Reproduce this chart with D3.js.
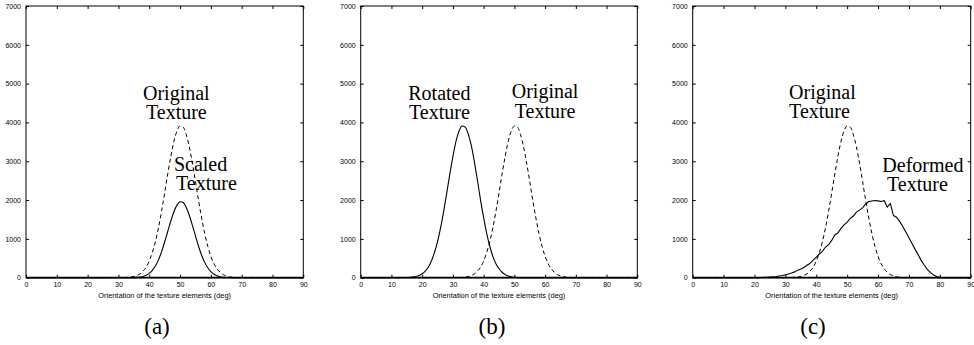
<!DOCTYPE html>
<html>
<head>
<meta charset="utf-8">
<script src="https://cdn.jsdelivr.net/npm/d3@7"></script>
<style>
  body { margin: 0; background: #fff; }
  .tick text { font-family: "Liberation Sans", Arial, sans-serif; font-size: 7px; fill: #000; }
  .tick line { stroke: #000; }
</style>
</head>
<body>
<div id="chart"></div>
<script>
// tick labels
var degTicks = [0, 10, 20, 30, 40, 50, 60, 70, 80, 90];
var countTicks = [0, 1000, 2000, 3000, 4000, 5000, 6000, 7000];

// original texture histogram (dashed, same in every panel)
var originalDeg = [0, 32, 33, 34, 35, 36, 37, 38, 39, 40, 41, 42, 43, 44, 45, 46, 47, 48, 49, 50,
    51, 52, 53, 54, 55, 56, 57, 58, 59, 60, 61, 62, 63, 64, 65, 66, 67, 68, 69, 90];
var originalCount = [0, 5, 10, 20, 30, 55, 100, 170, 270, 430, 650, 930, 1290, 1710, 2180, 2670, 3120, 3510, 3780, 3910,
    3880, 3690, 3370, 2950, 2480, 1990, 1540, 1140, 810, 550, 360, 230, 140, 80, 45, 25, 12, 5, 0, 0];

// (a) scaled texture
var scaledDeg = [0, 34, 35, 36, 37, 38, 39, 40, 41, 42, 43, 44, 45, 46, 47, 48, 49, 50,
    51, 52, 53, 54, 55, 56, 57, 58, 59, 60, 61, 62, 63, 64, 65, 66, 67, 90];
var scaledCount = [0, 1, 3, 8, 16, 33, 62, 110, 190, 300, 460, 670, 920, 1190, 1460, 1700, 1870, 1955,
    1935, 1810, 1610, 1350, 1080, 810, 580, 395, 255, 155, 90, 50, 25, 12, 6, 3, 0, 0];

// (b) rotated texture
var rotatedDeg = [0, 15, 16, 17, 18, 19, 20, 21, 22, 23, 24, 25, 26, 27, 28, 29, 30, 31, 32, 33,
    34, 35, 36, 37, 38, 39, 40, 41, 42, 43, 44, 45, 46, 47, 48, 49, 50, 51, 52, 90];
var rotatedCount = [0, 5, 10, 20, 30, 55, 100, 170, 270, 430, 650, 930, 1290, 1710, 2180, 2670, 3120, 3510, 3780, 3910,
    3880, 3700, 3400, 2980, 2500, 2000, 1550, 1140, 810, 550, 360, 230, 140, 80, 45, 25, 12, 5, 0, 0];

// (c) deformed texture
var deformedDeg = [0, 20, 21, 22, 23, 24, 25, 26, 27, 28, 29, 30, 31, 32, 33, 34, 35, 36, 37, 38, 39, 40,
    41, 42, 43, 44, 45, 46, 47, 48, 49, 50, 51, 52, 53, 54, 55, 56, 57, 58, 59, 60,
    61, 62, 63, 64, 65, 66, 67, 68, 69, 70, 71, 72, 73, 74, 75, 76, 77, 78, 79, 80, 81, 90];
var deformedCount = [0, 0, 2, 5, 8, 12, 18, 25, 32, 45, 55, 75, 95, 120, 150, 195, 225, 265, 320, 370, 450, 530,
    610, 680, 790, 850, 960, 1100, 1150, 1270, 1360, 1430, 1530, 1590, 1690, 1740, 1800, 1900, 1960, 1975, 1990, 1980,
    1965, 1985, 1820, 1910, 1600, 1560, 1450, 1320, 1180, 1030, 880, 730, 590, 440, 320, 210, 130, 70, 30, 8, 0, 0];

var W = 974, H = 345, top0 = 6, bottom0 = 277.7;

var panels = [
    {left: 26, right: 303.3, caption: "(a)", capX: 157,
     solid: [scaledDeg, scaledCount],
     labels: [
        {t: "Original", x: 48.8, y: 4580, a: "middle"},
        {t: "Texture", x: 48.8, y: 4090, a: "middle"},
        {t: "Scaled", x: 48.0, y: 2757, a: "start"},
        {t: "Texture", x: 48.7, y: 2260, a: "start"}]},
    {left: 360.7, right: 637.3, caption: "(b)", capX: 492,
     solid: [rotatedDeg, rotatedCount],
     labels: [
        {t: "Rotated", x: 25.6, y: 4580, a: "middle"},
        {t: "Texture", x: 25.6, y: 4090, a: "middle"},
        {t: "Original", x: 60.0, y: 4620, a: "middle"},
        {t: "Texture", x: 60.0, y: 4107, a: "middle"}]},
    {left: 692.7, right: 970.7, caption: "(c)", capX: 813,
     solid: [deformedDeg, deformedCount],
     labels: [
        {t: "Original", x: 31.2, y: 4604, a: "start"},
        {t: "Texture", x: 31.2, y: 4115, a: "start"},
        {t: "Deformed", x: 61.4, y: 2724, a: "start"},
        {t: "Texture", x: 62.9, y: 2242, a: "start"}]}
];

var svg = d3.select("#chart").append("svg")
    .attr("width", W).attr("height", H)
    .style("background", "#fff");

panels.forEach(function (p) {
    var x = d3.scaleLinear().domain([0, 90]).range([p.left, p.right]);
    var y = d3.scaleLinear().domain([0, 7000]).range([bottom0, top0]);
    var g = svg.append("g");

    // axes with inward ticks on all four sides
    g.append("g").attr("transform", "translate(0," + bottom0 + ")")
        .call(d3.axisBottom(x).tickValues(degTicks).tickFormat(d3.format("d"))
            .tickSizeInner(-3).tickSizeOuter(0).tickPadding(4))
        .call(function (s) { s.select(".domain").remove(); });
    g.append("g").attr("transform", "translate(0," + top0 + ")")
        .call(d3.axisTop(x).tickValues(degTicks).tickSizeInner(-3).tickSizeOuter(0).tickFormat(""))
        .call(function (s) { s.select(".domain").remove(); });
    g.append("g").attr("transform", "translate(" + p.left + ",0)")
        .call(d3.axisLeft(y).tickValues(countTicks).tickFormat(d3.format("d"))
            .tickSizeInner(-3).tickSizeOuter(0).tickPadding(5))
        .call(function (s) { s.select(".domain").remove(); });
    g.append("g").attr("transform", "translate(" + p.right + ",0)")
        .call(d3.axisRight(y).tickValues(countTicks).tickSizeInner(-3).tickSizeOuter(0).tickFormat(""))
        .call(function (s) { s.select(".domain").remove(); });

    g.append("rect")
        .attr("x", p.left).attr("y", top0)
        .attr("width", p.right - p.left).attr("height", bottom0 - top0)
        .attr("fill", "none").attr("stroke", "#000").attr("stroke-width", 1);

    var line = d3.line()
        .x(function (d) { return x(d[0]); })
        .y(function (d) { return y(d[1]); })
        .curve(d3.curveMonotoneX);

    var dashed = d3.zip(originalDeg, originalCount);
    var solid = d3.zip(p.solid[0], p.solid[1]);

    g.append("path").datum(dashed)
        .attr("d", line)
        .attr("fill", "none").attr("stroke", "#000").attr("stroke-width", 1)
        .attr("stroke-dasharray", "4,3");
    g.append("path").datum(solid)
        .attr("d", p.solid[0] === deformedDeg ? line.curve(d3.curveLinear) : line)
        .attr("fill", "none").attr("stroke", "#000").attr("stroke-width", 1.1);

    // thicker zero line, as in the original
    g.append("line")
        .attr("x1", p.left).attr("x2", p.right)
        .attr("y1", y(0)).attr("y2", y(0))
        .attr("stroke", "#000").attr("stroke-width", 1.8);

    g.selectAll("text.lab").data(p.labels).enter()
        .append("text").attr("class", "lab")
        .attr("x", function (d) { return x(d.x); })
        .attr("y", function (d) { return y(d.y); })
        .attr("text-anchor", function (d) { return d.a; })
        .style("font-family", "'Liberation Serif', 'Times New Roman', serif")
        .style("font-size", "20px")
        .text(function (d) { return d.t; });

    g.append("text")
        .attr("x", (p.left + p.right) / 2)
        .attr("y", 298)
        .attr("text-anchor", "middle")
        .style("font-family", "'Liberation Sans', Arial, sans-serif")
        .style("font-size", "7.4px")
        .text("Orientation of the texture elements (deg)");

    g.append("text")
        .attr("x", p.capX)
        .attr("y", 334)
        .attr("text-anchor", "middle")
        .style("font-family", "'Liberation Serif', 'Times New Roman', serif")
        .style("font-size", "23px")
        .text(p.caption);
});
</script>
</body>
</html>
